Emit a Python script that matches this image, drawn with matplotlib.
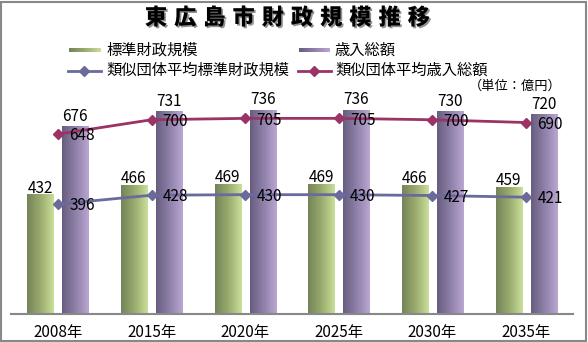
import numpy as np
import matplotlib
matplotlib.use('Agg')
import matplotlib.pyplot as plt
from matplotlib.colors import LinearSegmentedColormap
from matplotlib.patches import Rectangle
import matplotlib.patheffects as pe

plt.rcParams['font.family'] = ['Noto Sans CJK JP', 'DejaVu Sans']

# data
years = ['2008年', '2015年', '2020年', '2025年', '2030年', '2035年']
std_scale = [432, 466, 469, 469, 466, 459]        # 標準財政規模
revenue = [676, 731, 736, 736, 730, 720]          # 歳入総額
avg_std = [396, 428, 430, 430, 427, 421]          # 類似団体平均標準財政規模
avg_rev = [648, 700, 705, 705, 700, 690]          # 類似団体平均歳入総額

W, H = 588, 342
fig = plt.figure(figsize=(W / 100, H / 100), dpi=100)

# outer frame
fig.patches.append(Rectangle((0.5 / W, 1.5 / H), 585 / W, 339 / H, transform=fig.transFigure,
                             fill=False, edgecolor='#888888', linewidth=1.5))

ax = fig.add_axes([11 / W, 28 / H, 562 / W, 222 / H])
x = np.arange(len(years))
bw = 0.28
off = 0.187

green = LinearSegmentedColormap.from_list('g', ['#74845a', '#9aab6e', '#c9df9a'])
purple = LinearSegmentedColormap.from_list('p', ['#685d80', '#8e80a8', '#baa6d2'])
grad = np.linspace(0, 1, 64).reshape(1, -1)

b1 = ax.bar(x - off, std_scale, bw, facecolor='none', edgecolor='none')
b2 = ax.bar(x + off, revenue, bw, facecolor='none', edgecolor='none')
for bars, cm in ((b1, green), (b2, purple)):
    for b in bars:
        x0, h, w = b.get_x(), b.get_height(), b.get_width()
        im = ax.imshow(grad, cmap=cm, extent=[x0, x0 + w, 0, h], aspect='auto', zorder=1)
        im.set_clip_path(b)

ax.plot(x, avg_std, color='#6a6a9c', lw=2, marker='D', ms=5.5, zorder=3)
ax.plot(x, avg_rev, color='#9b3366', lw=2, marker='D', ms=5.5, zorder=3)

num_kw = dict(fontsize=11, color='black')
for i in x:
    ax.text(i - off, std_scale[i] + 22, str(std_scale[i]), ha='center', va='center', **num_kw)
    ax.text(i + off, revenue[i] + 36, str(revenue[i]), ha='center', va='center', **num_kw)
    ax.text(i + 0.12, avg_std[i] - 6, str(avg_std[i]), ha='left', va='center', zorder=4, **num_kw)
    ax.text(i + 0.12, avg_rev[i] - 6, str(avg_rev[i]), ha='left', va='center', zorder=4, **num_kw)

ax.set_xlim(-0.5, len(years) - 0.5)
ax.set_ylim(0, 800)
ax.set_yticks([])
ax.set_xticks(x)
ax.set_xticklabels(years, fontsize=11)
ax.tick_params(axis='x', length=0, pad=7)
for s in ('top', 'right', 'left'):
    ax.spines[s].set_visible(False)
ax.spines['bottom'].set_color('#888888')
ax.spines['bottom'].set_linewidth(1.5)

# title, spaced characters with shadow
title = '東広島市財政規模推移'
x0t, step = 145 + 11, 29.2
for k, ch in enumerate(title):
    fig.text((x0t + k * step) / W, 1 - 18 / H, ch, ha='center', va='center', fontsize=16,
             fontweight='heavy',
             path_effects=[pe.withSimplePatchShadow(offset=(1.2, -1.2), shadow_rgbFace='#777777', alpha=0.8)])

# legend
def legend_patch(xl, yc, cm):
    lax = fig.add_axes([xl / W, (H - yc - 2.5) / H, 31 / W, 5 / H])
    lax.imshow(grad, cmap=cm, aspect='auto')
    lax.axis('off')

def legend_line(xl, yc, color):
    fig.add_artist(plt.Line2D([xl / W, (xl + 33) / W], [(H - yc) / H] * 2, color=color, lw=2,
                              transform=fig.transFigure))
    fig.add_artist(plt.Line2D([(xl + 16) / W], [(H - yc) / H], color=color, marker='D', ms=5.5,
                              transform=fig.transFigure))

legend_patch(69, 50, green)
legend_patch(299, 50, purple)
legend_line(68, 71, '#6a6a9c')
legend_line(298, 71, '#9b3366')
leg_kw = dict(ha='left', va='center', fontsize=11)
fig.text(106 / W, 1 - 50 / H, '標準財政規模', **leg_kw)
fig.text(335 / W, 1 - 50 / H, '歳入総額', **leg_kw)
fig.text(106 / W, 1 - 70 / H, '類似団体平均標準財政規模', **leg_kw)
fig.text(335 / W, 1 - 70 / H, '類似団体平均歳入総額', **leg_kw)

fig.text(562 / W, 1 - 86 / H, '（単位：億円）', ha='right', va='center', fontsize=9.5)

fig.savefig('out.png', dpi=100, facecolor='white')
